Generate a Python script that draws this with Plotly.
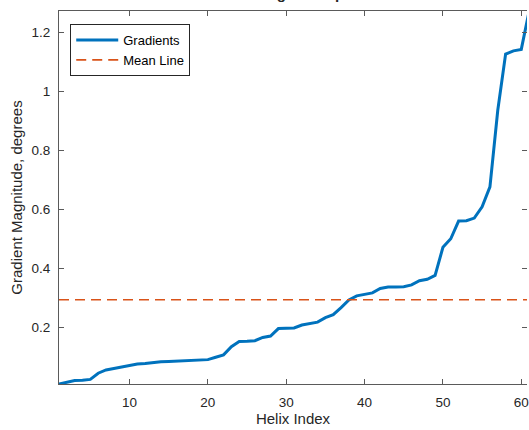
import numpy as np
import plotly.graph_objects as go

# Sorted gradient magnitude for each helix (degrees)
helix_index = list(range(1, 62))
gradients = [
    0.0095, 0.015, 0.021, 0.022, 0.025, 0.046, 0.057, 0.062, 0.067, 0.070,
    0.077, 0.079, 0.083, 0.085, 0.086, 0.087, 0.088, 0.090, 0.091, 0.092,
    0.100, 0.108, 0.136, 0.153, 0.154, 0.156, 0.167, 0.172, 0.197, 0.198,
    0.199, 0.209, 0.215, 0.219, 0.234, 0.244, 0.268, 0.294, 0.308, 0.313,
    0.318, 0.333, 0.338, 0.338, 0.339, 0.345, 0.359, 0.364, 0.377, 0.472,
    0.501, 0.561, 0.562, 0.571, 0.609, 0.677, 0.936, 1.126, 1.137, 1.142,
    1.272,
]
mean_value = float(np.mean(gradients))
x_ticks = [10, 20, 30, 40, 50, 60]
y_ticks = [0.2, 0.4, 0.6, 0.8, 1.0, 1.2]
y_tick_text = ["0.2", "0.4", "0.6", "0.8", "1", "1.2"]

BLUE = "#0072BD"
ORANGE = "#D95319"
AXIS = "#5a5a5a"
TEXT = "#262626"
FONT = "Liberation Sans, Arial, sans-serif"

fig = go.Figure()
fig.add_trace(go.Scatter(
    x=helix_index, y=gradients, mode="lines", name="Gradients",
    line=dict(color=BLUE, width=3),
))
fig.add_trace(go.Scatter(
    x=[helix_index[0], helix_index[-1]], y=[mean_value, mean_value],
    mode="lines", name="Mean Line", yaxis="y2",
    line=dict(color=ORANGE, width=1.6, dash="10px,6px"),
))

fig.update_layout(
    width=529, height=430,
    margin=dict(l=59, r=0, t=11, b=46),
    paper_bgcolor="white", plot_bgcolor="white",
    font=dict(family=FONT, color=TEXT, size=13.5),
    showlegend=True,
    legend=dict(
        x=0.024, y=0.965, xanchor="left", yanchor="top",
        bgcolor="white", bordercolor="#262626", borderwidth=1,
        font=dict(size=13, family=FONT, color="black"),
        itemwidth=42, tracegroupgap=0,
    ),
    xaxis=dict(
        range=[1, 60.73], tickvals=x_ticks, ticks="inside", ticklen=5,
        tickcolor=AXIS, showline=True, linecolor=AXIS, linewidth=1,
        mirror="ticks", showgrid=False, zeroline=False,
        ticklabelstandoff=6, ticklabeloverflow="allow",
        title=dict(text="Helix Index", font=dict(size=15, family=FONT), standoff=4),
    ),
    yaxis=dict(
        range=[gradients[0], gradients[-1]], tickvals=y_ticks, ticktext=y_tick_text,
        ticks="inside", ticklen=5, tickcolor=AXIS,
        showline=True, linecolor=AXIS, linewidth=1, showgrid=False, zeroline=False,
        ticklabelstandoff=5,
        title=dict(text="Gradient Magnitude, degrees", font=dict(size=15, family=FONT), standoff=5),
    ),
    yaxis2=dict(
        overlaying="y", side="right", matches="y", tickvals=y_ticks,
        ticks="inside", ticklen=5, tickcolor=AXIS, showticklabels=False,
        showline=False, showgrid=False, zeroline=False,
    ),
    annotations=[dict(
        text="<b>Gradient Magnitude per Helix</b>", xref="x", yref="paper",
        x=31, y=1.0195, xanchor="center", yanchor="bottom", showarrow=False,
        font=dict(size=15, family=FONT, color=TEXT),
    )],
)

fig.write_html("out.html")
